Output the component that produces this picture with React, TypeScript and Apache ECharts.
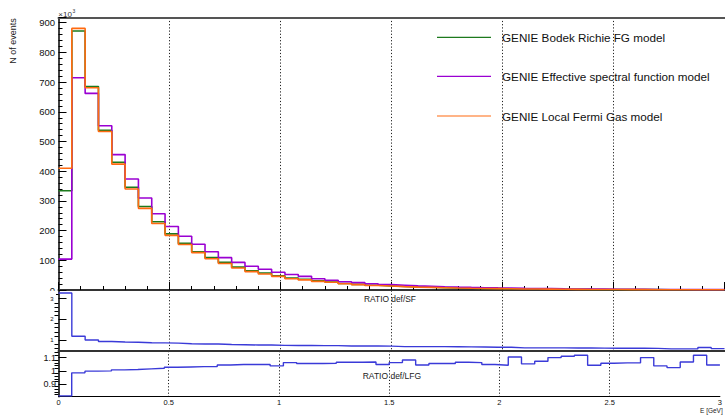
import React, { useEffect, useRef } from "react";
import * as echarts from "echarts";

// ---------- data ----------
const BIN_WIDTH = 0.06; // GeV
const X_MIN = 0;
const X_MAX = 3;

// N of events, in units of 10^3, one value per 0.06 GeV bin (50 bins)
const bodekRitchieFG = [
  334, 872, 685, 538, 430, 346, 281, 230, 189, 157,
  129, 109, 93, 77, 65, 57, 48, 40, 36, 31,
  27, 22, 19, 16, 14, 12, 10.5, 9.2, 8.1, 7.1,
  6.3, 5.5, 4.9, 4.3, 3.8, 3.4, 3.0, 2.7, 2.4, 2.1,
  1.9, 1.7, 1.5, 1.35, 1.2, 1.05, 0.95, 0.85, 0.75, 0.67,
];
const effectiveSF = [
  104, 715, 662, 553, 456, 374, 310, 257, 214, 181,
  154, 129, 109, 93, 80, 70, 60, 52, 46, 38,
  33, 28, 25, 21, 18, 16, 14, 12.5, 11, 9.8,
  8.7, 7.8, 7, 6.3, 5.6, 5, 4.5, 4, 3.6, 3.3,
  2.9, 2.6, 2.4, 2.1, 1.9, 1.7, 1.55, 1.4, 1.25, 1.1,
];
const localFermiGas = [
  410, 881, 681, 534, 424, 340, 275, 224, 184, 153,
  126, 105, 89, 74, 62, 54, 46, 38, 34, 29,
  26, 21, 18, 15, 13.3, 11.3, 9.7, 8.8, 7.7, 6.7,
  5.9, 5.2, 4.7, 4.1, 3.4, 3.2, 2.8, 2.5, 2.2, 1.9,
  1.8, 1.6, 1.4, 1.27, 1.09, 1.01, 0.93, 0.8, 0.67, 0.64,
];

// ratio panels
const ratioDefSF = [
  3.27, 1.19, 1.01, 0.94, 0.91, 0.9, 0.88, 0.87, 0.86, 0.83,
  0.82, 0.82, 0.79, 0.78, 0.77, 0.77, 0.75, 0.745, 0.745, 0.74,
  0.74, 0.72, 0.72, 0.72, 0.715, 0.69, 0.69, 0.69, 0.69, 0.685,
  0.68, 0.67, 0.66, 0.66, 0.63, 0.63, 0.63, 0.63, 0.625, 0.625,
  0.62, 0.61, 0.61, 0.61, 0.605, 0.58, 0.58, 0.58, 0.645, 0.595,
];
const ratioDefLFG = [
  0.81, 0.985, 0.998, 1.0, 1.008, 1.01, 1.015, 1.02, 1.028, 1.03,
  1.032, 1.033, 1.045, 1.048, 1.048, 1.048, 1.038, 1.063, 1.056, 1.056,
  1.058, 1.066, 1.066, 1.068, 1.048, 1.063, 1.083, 1.045, 1.056, 1.056,
  1.066, 1.063, 1.048, 1.043, 1.106, 1.053, 1.073, 1.101, 1.111, 1.119,
  1.043, 1.058, 1.061, 1.061, 1.101, 1.038, 1.025, 1.068, 1.119, 1.045,
];

// axis ranges and ticks
const MAIN_Y_MAX = 917;
const R1_MIN = 0.48;
const R1_MAX = 3.39;
const R1_MAJOR = [1, 2, 3];
const R1_MINOR = [0.6, 0.8, 1.2, 1.4, 1.6, 1.8, 2.2, 2.4, 2.6, 2.8, 3.2];
const R2_MIN = 0.804;
const R2_MAX = 1.151;
const R2_MAJOR = [0.9, 1, 1.1];
const R2_LABELS = ["0.9", "1", "1.1"];
const R2_MINOR = [0.82, 0.84, 0.86, 0.88, 0.92, 0.94, 0.96, 0.98, 1.02, 1.04, 1.06, 1.08, 1.12, 1.14];

const seriesNames = [
  "GENIE Bodek Richie FG model",
  "GENIE Effective spectral function model",
  "GENIE Local Fermi Gas model",
];
const seriesColors = ["#1d7a1d", "#9a00d2", "#ff6a10"];

function toSteps(values: number[]) {
  const pts: number[][] = values.map((v, i) => [Number((X_MIN + i * BIN_WIDTH).toFixed(3)), v]);
  pts.push([Number((X_MIN + values.length * BIN_WIDTH).toFixed(3)), values[values.length - 1]]);
  return pts;
}

const FONT = "Liberation Sans, Arial, Helvetica, sans-serif";
const DOT = { type: [1.2, 2] as any, color: "#222", width: 1 };

export default function App() {
  const ref = useRef<HTMLDivElement>(null);
  useEffect(() => {
    if (!ref.current) return;
    const chart = echarts.init(ref.current, undefined, { renderer: "svg" });

    const L = 58.5;
    const W = 666;
    const grids = [
      { left: L, top: 17.7, width: W, height: 272.3 },
      { left: L, top: 290.5, width: W, height: 60.5 },
      { left: L, top: 351, width: W, height: 45.7 },
    ];

    const xBase = {
      type: "value" as const,
      min: X_MIN,
      max: X_MAX,
      interval: 0.5,
    };

    const option: any = {
      animation: false,
      backgroundColor: "#fff",
      textStyle: { fontFamily: FONT },
      grid: grids,
      xAxis: [
        {
          ...xBase,
          gridIndex: 0,
          position: "bottom",
          axisLine: { show: true, onZero: false, lineStyle: { color: "#333", width: 2 } },
          axisTick: { show: true, inside: true, length: 8, lineStyle: { color: "#000", width: 1 } },
          minorTick: { show: true, splitNumber: 5, length: 4, lineStyle: { color: "#000", width: 1 } },
          axisLabel: { show: false },
          splitLine: { show: true, showMinLine: false, showMaxLine: false, lineStyle: DOT },
        },
        {
          ...xBase,
          gridIndex: 0,
          position: "top",
          axisLine: { show: true, onZero: false, lineStyle: { color: "#555", width: 2 } },
          axisTick: { show: false },
          axisLabel: { show: false },
          splitLine: { show: false },
        },
        {
          ...xBase,
          gridIndex: 1,
          position: "bottom",
          axisLine: { show: true, onZero: false, lineStyle: { color: "#333", width: 2 } },
          axisTick: { show: false },
          axisLabel: { show: false },
          splitLine: { show: true, showMinLine: false, showMaxLine: false, lineStyle: DOT },
        },
        {
          ...xBase,
          gridIndex: 2,
          position: "bottom",
          axisLine: { show: true, onZero: false, lineStyle: { color: "#000", width: 1 } },
          axisTick: { show: false },
          axisLabel: { show: true, fontSize: 7.5, color: "#111", margin: 2, fontFamily: FONT, hideOverlap: false },
          splitLine: { show: true, showMinLine: false, showMaxLine: false, lineStyle: DOT },
        },
      ],
      yAxis: [
        {
          type: "value",
          gridIndex: 0,
          min: 0,
          max: MAIN_Y_MAX,
          interval: 100,
          axisLine: { show: true, onZero: false, lineStyle: { color: "#000", width: 1.5 } },
          axisTick: { show: true, inside: true, length: 8, lineStyle: { color: "#000" } },
          minorTick: { show: true, splitNumber: 5, length: 4, lineStyle: { color: "#000" } },
          axisLabel: { fontSize: 9.5, color: "#111", margin: 3.5, showMaxLabel: false, fontFamily: FONT },
          splitLine: { show: false },
        },
        {
          type: "value",
          gridIndex: 1,
          min: R1_MIN,
          max: R1_MAX,
          axisLine: { show: true, onZero: false, lineStyle: { color: "#000", width: 1.5 } },
          axisTick: { show: true, inside: true, length: 8, customValues: R1_MAJOR, lineStyle: { color: "#000" } },
          axisLabel: { show: false },
          splitLine: { show: false },
        },
        {
          type: "value",
          gridIndex: 1,
          min: R1_MIN,
          max: R1_MAX,
          axisLine: { show: false },
          axisTick: { show: true, inside: true, length: 4, customValues: R1_MINOR, lineStyle: { color: "#000" } },
          axisLabel: { show: false },
          splitLine: { show: false },
        },
        {
          type: "value",
          gridIndex: 2,
          min: R2_MIN,
          max: R2_MAX,
          axisLine: { show: true, onZero: false, lineStyle: { color: "#000", width: 1.5 } },
          axisTick: { show: true, inside: true, length: 8, customValues: R2_MAJOR, lineStyle: { color: "#000" } },
          axisLabel: { show: false },
          splitLine: { show: false },
        },
        {
          type: "value",
          gridIndex: 2,
          min: R2_MIN,
          max: R2_MAX,
          axisLine: { show: false },
          axisTick: { show: true, inside: true, length: 4, customValues: R2_MINOR, lineStyle: { color: "#000" } },
          axisLabel: { show: false },
          splitLine: { show: false },
        },
      ],
      series: [
        {
          name: seriesNames[0],
          type: "line",
          step: "end",
          xAxisIndex: 0,
          yAxisIndex: 0,
          data: toSteps(bodekRitchieFG),
          symbol: "none",
          lineStyle: { color: seriesColors[0], width: 1.6 },
          z: 2,
        },
        {
          name: seriesNames[1],
          type: "line",
          step: "end",
          xAxisIndex: 0,
          yAxisIndex: 0,
          data: toSteps(effectiveSF),
          symbol: "none",
          lineStyle: { color: seriesColors[1], width: 1.6 },
          z: 3,
        },
        {
          name: seriesNames[2],
          type: "line",
          step: "end",
          xAxisIndex: 0,
          yAxisIndex: 0,
          data: toSteps(localFermiGas),
          symbol: "none",
          lineStyle: { color: seriesColors[2], width: 1.6 },
          z: 4,
        },
        {
          name: "RATIO def/SF",
          type: "line",
          step: "end",
          xAxisIndex: 2,
          yAxisIndex: 1,
          data: toSteps(ratioDefSF),
          symbol: "none",
          lineStyle: { color: "#3a3ad8", width: 1.4 },
        },
        {
          name: "RATIO def/LFG",
          type: "line",
          step: "end",
          xAxisIndex: 3,
          yAxisIndex: 3,
          data: toSteps(ratioDefLFG),
          symbol: "none",
          lineStyle: { color: "#3a3ad8", width: 1.4 },
        },
      ],
    };

    chart.setOption(option);

    // Tick labels of the ratio pads, placed through the axes' own scales
    const r1Labels = R1_MAJOR.map((v) => {
      const p = chart.convertToPixel({ yAxisIndex: 1 }, v) as number;
      return { type: "text", x: 53.5, y: p, style: { text: String(v), fontSize: 6, fontFamily: FONT, fill: "#111", align: "right", verticalAlign: "middle" }, z: 60 };
    });
    const r2Labels = R2_MAJOR.map((v, i) => {
      const p = chart.convertToPixel({ yAxisIndex: 3 }, v) as number;
      return { type: "text", x: 56, y: p, style: { text: R2_LABELS[i], fontSize: 9, fontFamily: FONT, fill: "#111", align: "right", verticalAlign: "middle" }, z: 60 };
    });

    chart.setOption({
      graphic: [
        // cover lower half of the main panel "0" label (hidden by ratio pad)
        { type: "rect", shape: { x: 30, y: 290.8, width: 26, height: 4.5 }, style: { fill: "#fff" }, z: 50 },
        ...r1Labels,
        ...r2Labels,
        // axis title
        {
          type: "text",
          x: 13,
          y: 18.3,
          rotation: Math.PI / 2,
          style: { text: "N of events", fontSize: 9, fontFamily: FONT, fill: "#222", align: "right", verticalAlign: "middle" },
          z: 60,
        },
        { type: "text", x: 58.3, y: 14.3, style: { text: "×10", fontSize: 8, fontFamily: FONT, fill: "#333", align: "left", verticalAlign: "middle" }, z: 60 },
        { type: "text", x: 72.6, y: 11.2, style: { text: "3", fontSize: 5, fontFamily: FONT, fill: "#333", align: "left", verticalAlign: "middle" }, z: 60 },
        // legend
        ...seriesNames.flatMap((name, i) => {
          const y = [37.3, 76.3, 116][i];
          return [
            { type: "line", shape: { x1: 437, y1: y, x2: 491, y2: y }, style: { stroke: seriesColors[i], lineWidth: 1.2 }, z: 60 },
            { type: "text", x: 502, y, style: { text: name, fontSize: 11.7, fontFamily: FONT, fill: "#111", align: "left", verticalAlign: "middle" }, z: 60 },
          ];
        }),
        { type: "text", x: 364, y: 299, style: { text: "RATIO def/SF", fontSize: 8.4, fontFamily: FONT, fill: "#222", align: "left", verticalAlign: "middle" }, z: 60 },
        { type: "text", x: 362.7, y: 375.7, style: { text: "RATIO def/LFG", fontSize: 8.5, fontFamily: FONT, fill: "#222", align: "left", verticalAlign: "middle" }, z: 60 },
        { type: "text", x: 700, y: 410, style: { text: "E [GeV]", fontSize: 6.5, fontFamily: FONT, fill: "#222", align: "left", verticalAlign: "middle" }, z: 60 },
      ],
    });
    return () => chart.dispose();
  }, []);

  return (
    <div
      ref={ref}
      style={{ position: "absolute", left: 0, top: 0, width: 725, height: 415, background: "#fff" }}
    />
  );
}
